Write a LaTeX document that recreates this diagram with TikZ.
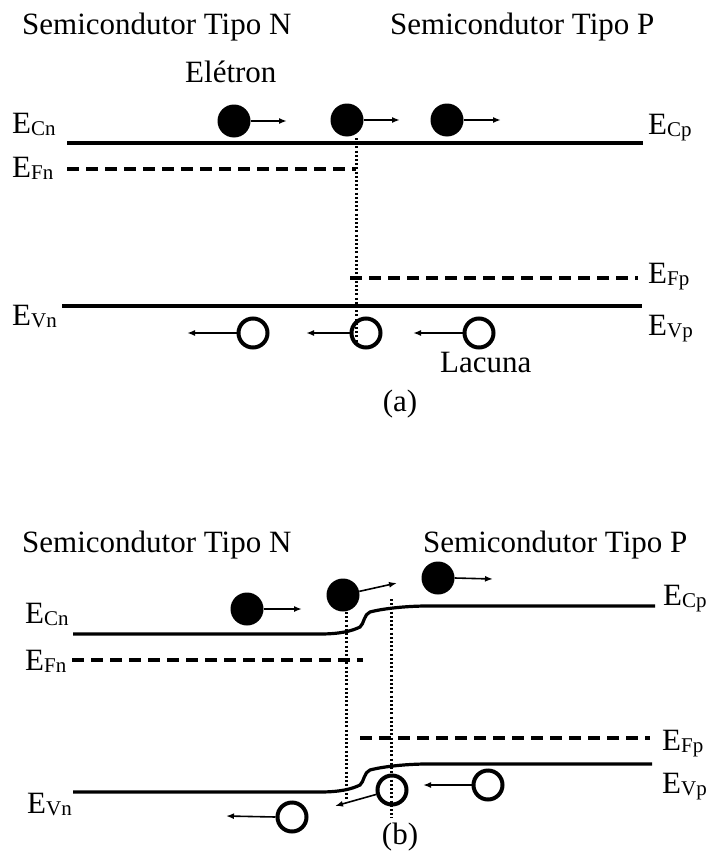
\documentclass[tikz,border=0pt]{standalone}
\usepackage{fontspec}
\setmainfont{Liberation Serif}
\usetikzlibrary{calc,arrows.meta}
\newcommand{\nivel}[1]{E\raisebox{-2pt}{\fontsize{21}{21}\selectfont #1}}

\begin{document}
\begin{tikzpicture}[x=1pt,y=-1pt,
		font=\fontsize{31}{36}\selectfont,
		texto/.style={inner sep=0pt,anchor=base west},
		eletron/.style={circle,fill=black,minimum size=33pt,inner sep=0pt},
		lacuna/.style={circle,draw=black,line width=4pt,minimum size=29pt,inner sep=0pt},
		banda/.style={line width=3.2pt},
		fermi/.style={line width=4pt,dash pattern=on 12pt off 7pt},
		juncao/.style={line width=3pt,dash pattern=on 2pt off 2.2pt},
		seta/.style={line width=1.6pt,-{Latex[length=8pt,width=6pt]}}]
				\useasboundingbox (0,0) rectangle (708,859);
				% (a) antes do contato
				\coordinate (Cn1) at (67,143);
				\coordinate (Cp1) at (643,143);
				\coordinate (Fn1) at (67,169);
				\coordinate (Fn1f) at (356,169);
				\coordinate (Fp1i) at (350,278);
				\coordinate (Fp1) at (638,278);
				\coordinate (Vn1) at (62,306);
				\coordinate (Vp1) at (642,306);
				\coordinate (J1a) at (356,138);
				\coordinate (J1b) at (356,342);
				\draw[banda] (Cn1)--(Cp1);
				\draw[banda] (Vn1)--(Vp1);
				\draw[fermi] (Fn1)--(Fn1f);
				\draw[fermi] (Fp1i)--(Fp1);
				\draw[juncao] (J1a)--(J1b);
				\node[eletron] (ea1) at (234,121) {};
				\node[eletron] (ea2) at (347,120) {};
				\node[eletron] (ea3) at (447,120) {};
				\coordinate (ta1) at (287,121);
				\coordinate (ta2) at (400,120);
				\coordinate (ta3) at (501,120);
				\draw[seta] (ea1.east)--(ta1);
				\draw[seta] (ea2.east)--(ta2);
				\draw[seta] (ea3.east)--(ta3);
				\node[lacuna] (la1) at (253,333) {};
				\node[lacuna] (la2) at (366,333) {};
				\node[lacuna] (la3) at (479,333) {};
				\coordinate (sa1) at (187,333);
				\coordinate (sa2) at (306,333);
				\coordinate (sa3) at (413,333);
				\draw[seta] (la1.west)--(sa1);
				\draw[seta] (la2.west)--(sa2);
				\draw[seta] (la3.west)--(sa3);
				\node[texto] (tn1) at (22,35) {Semicondutor Tipo N};
				\node[texto] (tp1) at (390,35) {Semicondutor Tipo P};
				\node[texto] (el) at (185,82) {Elétron};
				\node[texto] (lac) at (440,372) {Lacuna};
				\node[inner sep=0pt] (ra) at (400,404) {(a)};
				\node[texto] (ecn1) at (12,133) {\nivel{Cn}};
				\node[texto] (efn1) at (12,177) {\nivel{Fn}};
				\node[texto] (evn1) at (12,325) {\nivel{Vn}};
				\node[texto] (ecp1) at (648,134) {\nivel{Cp}};
				\node[texto] (efp1) at (648,283) {\nivel{Fp}};
				\node[texto] (evp1) at (648,335) {\nivel{Vp}};
				% (b) em equilibrio
				\coordinate (Cn2) at (73,634);
				\coordinate (Cp2) at (655,606);
				\coordinate (Vn2) at (73,792);
				\coordinate (Vp2) at (652,764);
				\coordinate (Fn2) at (72,660);
				\coordinate (Fn2f) at (363,660);
				\coordinate (Fp2i) at (360,738);
				\coordinate (Fp2) at (650,738);
				\coordinate (J2a) at (346,612);
				\coordinate (J2b) at (346,800);
				\coordinate (J3a) at (391,599);
				\coordinate (J3b) at (391,818);
				\draw[banda] (Cn2)--(320,634) .. controls (340,634) and (352,631) .. (360,627)
					.. controls (364,624) and (364,614) .. (370,612)
					.. controls (385,608) and (410,606) .. (427,606)--(Cp2);
				\draw[banda] (Vn2)--(320,792) .. controls (340,792) and (352,789) .. (360,785)
					.. controls (364,782) and (364,772) .. (370,770)
					.. controls (385,766) and (410,764) .. (427,764)--(Vp2);
				\draw[fermi] (Fn2)--(Fn2f);
				\draw[fermi] (Fp2i)--(Fp2);
				\draw[juncao] (J2a)--(J2b);
				\draw[juncao] (J3a)--(J3b);
				\node[eletron] (eb1) at (247,609) {};
				\node[eletron] (eb2) at (343,595) {};
				\node[eletron] (eb3) at (438,578) {};
				\coordinate (tb1) at (302,609);
				\coordinate (tb2) at (397,583);
				\coordinate (tb3) at (493,579);
				\draw[seta] (eb1.east)--(tb1);
				\draw[seta] (eb2)--(tb2);
				\draw[seta] (eb3.east)--(tb3);
				\node[lacuna] (lb1) at (292,817) {};
				\node[lacuna] (lb2) at (392,790) {};
				\node[lacuna] (lb3) at (488,785) {};
				\coordinate (sb1) at (226,816);
				\coordinate (sb2) at (335,806);
				\coordinate (sb3) at (423,785);
				\draw[seta] (lb1.west)--(sb1);
				\draw[seta] (lb2)--(sb2);
				\draw[seta] (lb3.west)--(sb3);
				\node[texto] (tn2) at (22,552) {Semicondutor Tipo N};
				\node[texto] (tp2) at (423,552) {Semicondutor Tipo P};
				\node[inner sep=0pt] (rb) at (400,837) {(b)};
				\node[texto] (ecn2) at (25,623) {\nivel{Cn}};
				\node[texto] (efn2) at (25,670) {\nivel{Fn}};
				\node[texto] (evn2) at (27,813) {\nivel{Vn}};
				\node[texto] (ecp2) at (663,605) {\nivel{Cp}};
				\node[texto] (efp2) at (662,750) {\nivel{Fp}};
				\node[texto] (evp2) at (662,793) {\nivel{Vp}};
			\end{tikzpicture}
\end{document}
